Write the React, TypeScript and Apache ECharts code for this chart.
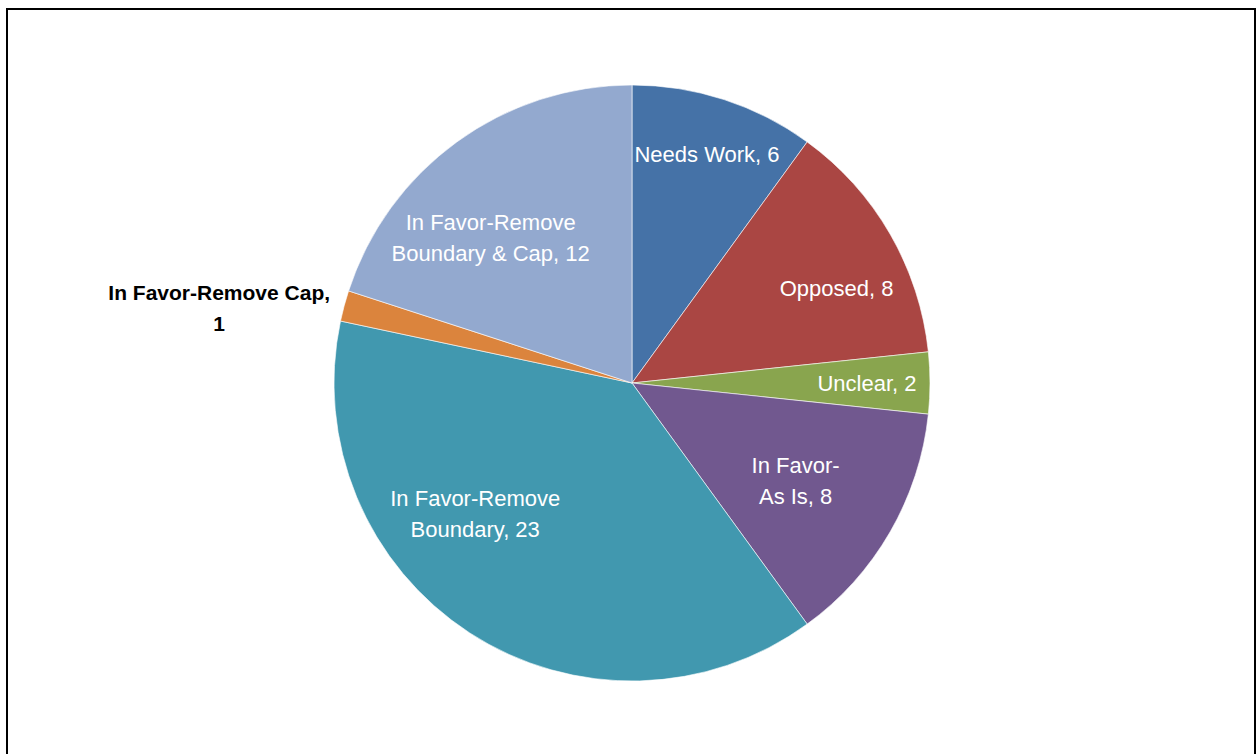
import React, { useEffect, useRef } from "react";
import * as echarts from "echarts";

const categories = [
  "Needs Work",
  "Opposed",
  "Unclear",
  "In Favor-As Is",
  "In Favor-Remove Boundary",
  "In Favor-Remove Cap",
  "In Favor-Remove Boundary & Cap",
];
const values = [6, 8, 2, 8, 23, 1, 12];
const labelTexts = [
  "Needs Work, 6",
  "Opposed, 8",
  "Unclear, 2",
  "In Favor-\nAs Is, 8",
  "In Favor-Remove\nBoundary, 23",
  "In Favor-Remove Cap,\n1",
  "In Favor-Remove\nBoundary & Cap, 12",
];
const colors = ["#4572A7", "#AA4643", "#89A54E", "#71588F", "#4198AF", "#DB843D", "#93A9CF"];
const labelOffsets: [number, number][] = [
  [28, -84],
  [73, -19],
  [83, 0],
  [32, 22],
  [-74, 4],
  [-266, -36],
  [-52, -22],
];

const FONT = "'Liberation Sans Narrow', 'Arial Narrow', 'Liberation Sans', sans-serif";

export default function App() {
  const ref = useRef<HTMLDivElement>(null);
  useEffect(() => {
    if (!ref.current) return;
    const chart = echarts.init(ref.current, undefined, { renderer: "svg" });
    const data = categories.map((name, i) => {
      const outside = i === 5;
      return {
        name,
        value: values[i],
        itemStyle: { color: colors[i] },
        label: {
          formatter: labelTexts[i],
          offset: labelOffsets[i],
          color: outside ? "#000000" : "#ffffff",
          fontWeight: outside ? "bold" : "normal",
          fontSize: outside ? 21 : 22,
        },
      };
    });
    chart.setOption({
      animation: false,
      backgroundColor: "#ffffff",
      graphic: [
        {
          type: "rect",
          shape: { x: 7, y: 9, width: 1248, height: 760 },
          style: { fill: "none", stroke: "#000000", lineWidth: 2 },
          silent: true,
        },
      ],
      series: [
        {
          type: "pie",
          center: [632, 383],
          radius: [0, 298],
          startAngle: 90,
          clockwise: true,
          avoidLabelOverlap: false,
          itemStyle: { borderColor: "#ffffff", borderWidth: 0.6 },
          label: {
            show: true,
            position: "inside",
            fontFamily: FONT,
            fontSize: 22,
            lineHeight: 31,
            align: "center",
          },
          labelLine: { show: false },
          emphasis: { disabled: true },
          data,
        },
      ],
    });
    return () => chart.dispose();
  }, []);
  return (
    <div
      ref={ref}
      style={{ position: "fixed", left: 0, top: 0, width: 1257, height: 754 }}
    />
  );
}
